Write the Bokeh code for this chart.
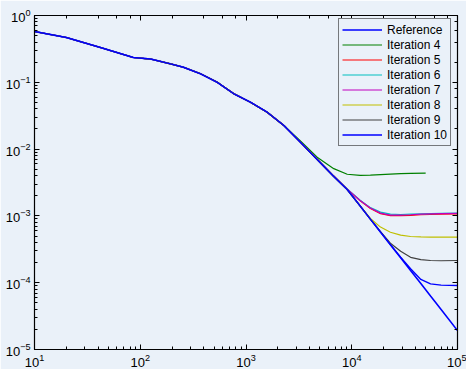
from bokeh.plotting import figure
from bokeh.models import LogAxis, LogTicker, Legend, LegendItem, Range1d, CustomJSTickFormatter
from bokeh.embed import file_html
from bokeh.resources import INLINE

# ---- data ----
x_grid = [10, 20, 42, 86, 125, 193, 256, 372, 535, 768, 1100, 1585, 2280, 3270,
          4710, 6760, 9060, 12000, 15000, 18700, 23200, 29000, 36000, 45000,
          55600, 70000, 100000]

ref_y = [0.576, 0.469, 0.332, 0.235, 0.223, 0.189, 0.168, 0.134, 0.100, 0.0673,
         0.0504, 0.0357, 0.0226, 0.0127, 0.00699, 0.00389, 0.00248, 0.00141,
         0.000895, 0.000572, 0.000371, 0.000236, 0.000152, 0.0000969,
         0.0000631, 0.0000396, 0.0000192]

it4_x = [10, 20, 42, 86, 125, 193, 256, 372, 535, 768, 1100, 1585, 2280, 3270,
         4710, 6760, 9060, 12000, 15000, 18700, 23200, 29000, 36000, 50000]
it4_y = [0.576, 0.469, 0.332, 0.235, 0.223, 0.189, 0.168, 0.134, 0.100, 0.0673,
         0.0504, 0.0357, 0.0226, 0.0133, 0.00757, 0.0051, 0.0042, 0.00405,
         0.00408, 0.00415, 0.00422, 0.00428, 0.00432, 0.00438]

it5_y = [0.576, 0.469, 0.332, 0.235, 0.223, 0.189, 0.168, 0.134, 0.100, 0.0673,
         0.0504, 0.0357, 0.0226, 0.0127, 0.00705, 0.00395, 0.00252, 0.00168,
         0.00129, 0.00108, 0.00101, 0.00101, 0.00102, 0.00104, 0.00105,
         0.00106, 0.00107]
it6_y = [0.576, 0.469, 0.332, 0.235, 0.223, 0.189, 0.168, 0.134, 0.100, 0.0673,
         0.0504, 0.0357, 0.0226, 0.0127, 0.00705, 0.00395, 0.00253, 0.00172,
         0.00133, 0.00114, 0.00106, 0.00105, 0.00106, 0.00107, 0.00108,
         0.00109, 0.00110]
it7_y = [0.576, 0.469, 0.332, 0.235, 0.223, 0.189, 0.168, 0.134, 0.100, 0.0673,
         0.0504, 0.0357, 0.0226, 0.0127, 0.00705, 0.00395, 0.00252, 0.00170,
         0.00131, 0.00110, 0.00103, 0.00103, 0.00104, 0.00106, 0.00107,
         0.00108, 0.00109]
it8_y = [0.576, 0.469, 0.332, 0.235, 0.223, 0.189, 0.168, 0.134, 0.100, 0.0673,
         0.0504, 0.0357, 0.0226, 0.0127, 0.00699, 0.00389, 0.00248, 0.00141,
         0.000915, 0.00068, 0.00057, 0.000515, 0.000492, 0.000485, 0.000482,
         0.00048, 0.000482]
it9_y = [0.576, 0.469, 0.332, 0.235, 0.223, 0.189, 0.168, 0.134, 0.100, 0.0673,
         0.0504, 0.0357, 0.0226, 0.0127, 0.00699, 0.00389, 0.00248, 0.00141,
         0.000895, 0.00058, 0.00039, 0.000295, 0.00024, 0.000222, 0.000215,
         0.000213, 0.000215]
it10_y = [0.576, 0.469, 0.332, 0.235, 0.223, 0.189, 0.168, 0.134, 0.100, 0.0673,
          0.0504, 0.0357, 0.0226, 0.0127, 0.00699, 0.00389, 0.00248, 0.00141,
          0.000895, 0.000572, 0.000371, 0.00024, 0.000162, 0.000112,
          0.000096, 0.000092, 0.000091]

labels = ["Reference", "Iteration 4", "Iteration 5", "Iteration 6", "Iteration 7",
          "Iteration 8", "Iteration 9", "Iteration 10"]
colors = ["#0000ff", "#008000", "#ff0000", "#00bfbf", "#bf00bf", "#bfbf00",
          "#404040", "#0000ff"]

BG = "#eaf1f9"

p = figure(width=466, height=369, x_axis_type="log", y_axis_type="log",
           x_range=Range1d(10, 1e5), y_range=Range1d(1e-5, 1),
           output_backend="svg", toolbar_location=None,
           min_border_left=34, min_border_right=9, min_border_top=15,
           min_border_bottom=20)
p.background_fill_color = BG
p.border_fill_color = BG
p.outline_line_color = None
p.xgrid.visible = False
p.ygrid.visible = False

series = [(x_grid, ref_y), (it4_x, it4_y), (x_grid, it5_y), (x_grid, it6_y),
          (x_grid, it7_y), (x_grid, it8_y), (x_grid, it9_y), (x_grid, it10_y)]
rends = []
for (xs, ys), c, w in zip(series, colors, [1.6, 1.2, 1.2, 1.2, 1.2, 1.2, 1.2, 1.4]):
    r = p.line(xs, ys, line_color=c, line_width=w)
    rends.append(r)

def style_axis(ax, show_labels=True):
    ax.axis_line_color = "black"
    ax.axis_line_width = 1.2
    ax.major_tick_line_color = "black"
    ax.minor_tick_line_color = "black"
    ax.major_tick_in = 5
    ax.major_tick_out = 0
    ax.minor_tick_in = 3
    ax.minor_tick_out = 0
    ax.major_label_text_font = "Liberation Sans"
    ax.major_label_text_font_size = "13px"
    ax.major_label_text_color = "black"
    ax.major_label_standoff = 4 if show_labels else 0
    if not show_labels:
        ax.formatter = CustomJSTickFormatter(code="return ''")

for ax in p.xaxis:
    style_axis(ax)
for ax in p.yaxis:
    style_axis(ax)

top = LogAxis()
right = LogAxis()
p.add_layout(top, "above")
p.add_layout(right, "right")
style_axis(top, False)
style_axis(right, False)

legend = Legend(items=[LegendItem(label=l, renderers=[r]) for l, r in zip(labels, rends)],
                location=(304, 203))
legend.label_text_font = "Liberation Sans"
legend.label_text_font_size = "12px"
legend.label_text_color = "black"
legend.label_height = 15
legend.glyph_height = 15
legend.glyph_width = 40
legend.label_standoff = 5
legend.spacing = 0
legend.padding = 3
legend.margin = 0
legend.border_line_color = "black"
legend.border_line_width = 1.5
legend.background_fill_color = BG
legend.background_fill_alpha = 1.0
p.add_layout(legend)

open("out.html", "w").write(file_html(p, INLINE))
